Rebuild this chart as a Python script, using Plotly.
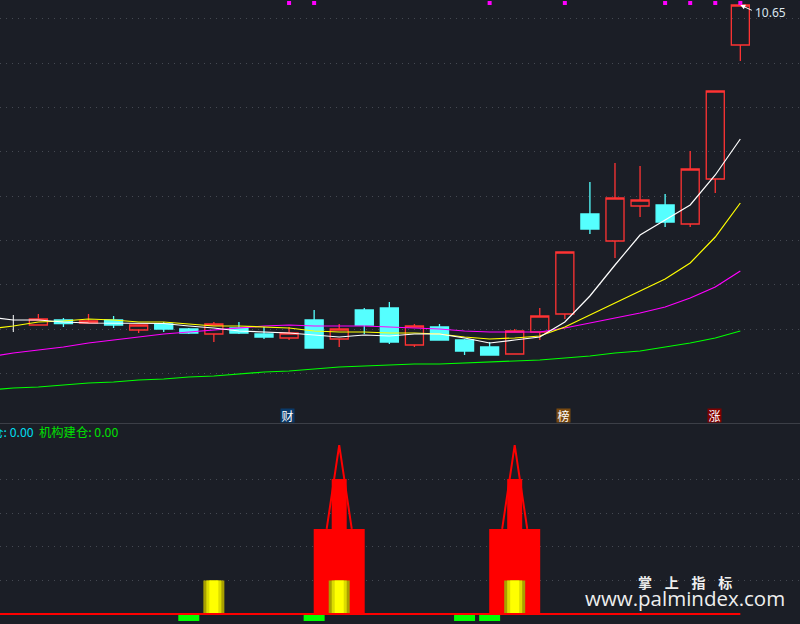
import plotly.graph_objects as go

# Candles (index 1..29); the first session (index 0) is a white doji
candle_idx = list(range(1, 30))
opens = [4.25,4.35,4.29,4.35,4.15,4.27,4.17,4.07,4.19,4.07,3.99,4.35,3.97,4.55,4.59,3.85,4.21,3.95,3.81,3.67,4.11,4.47,6.47,5.93,6.63,6.65,6.27,7.17,9.85]
highs = [4.47,4.39,4.47,4.43,4.25,4.31,4.19,4.31,4.31,4.21,4.21,4.55,4.27,4.59,4.71,4.27,4.27,3.97,3.91,4.17,4.59,5.71,7.11,7.49,7.43,6.87,7.73,8.93,10.65]
lows = [4.25,4.21,4.29,4.19,4.09,4.11,4.07,3.91,4.07,3.97,3.95,3.79,3.81,4.07,3.87,3.81,3.95,3.65,3.65,3.67,3.95,4.37,6.07,5.59,6.41,6.21,6.21,6.89,9.53]
closes = [4.37,4.28,4.33,4.25,4.25,4.17,4.09,4.27,4.09,4.01,4.09,3.79,4.17,4.25,3.91,4.23,3.95,3.73,3.65,4.13,4.43,5.71,6.17,6.79,6.75,6.31,7.37,8.93,10.65]
doji_idx = [0, 0]
doji_range = [4.45, 4.11]

# Moving averages (index -1..29; the first point runs off the left edge)
ma_idx = list(range(-1, 30))
ma_white = [4.41,4.35,4.35,4.31,4.29,4.29,4.29,4.28,4.23,4.19,4.13,4.11,4.09,4.05,4.01,4.05,4.03,4.07,4.07,3.99,3.89,3.95,4.01,4.31,4.83,5.45,6.05,6.35,6.65,7.25,7.97]
ma_yellow = [4.17,4.23,4.31,4.33,4.37,4.35,4.31,4.31,4.27,4.23,4.23,4.21,4.19,4.13,4.11,4.11,4.09,4.09,4.07,4.01,3.97,3.99,4.03,4.21,4.45,4.69,4.93,5.17,5.49,6.01,6.69]
ma_magenta = [3.61,3.69,3.75,3.81,3.89,3.95,4.01,4.07,4.11,4.15,4.19,4.23,4.25,4.23,4.23,4.23,4.21,4.19,4.17,4.13,4.11,4.11,4.11,4.19,4.29,4.39,4.49,4.61,4.79,5.01,5.33]
ma_green = [2.95,2.99,3.01,3.05,3.09,3.11,3.15,3.17,3.21,3.23,3.27,3.31,3.33,3.37,3.41,3.43,3.45,3.47,3.47,3.49,3.51,3.53,3.55,3.59,3.63,3.69,3.73,3.81,3.89,3.99,4.13]

signal_idx = [11, 12, 19, 22, 26, 27, 28, 29]
signal_price = [10.69] * 8
price_grid = [10.38, 9.49, 8.61, 7.73, 6.82, 5.95, 5.06, 4.17, 3.29]

# Lower indicator pane
base_idx = list(range(-1, 30))
base_vals = [0] * 31
wide_idx = [13, 20]
wide_vals = [2.54, 2.54]
narrow_idx = [13, 20]
narrow_vals = [4.03, 4.03]
spire_idx = [12.5, 13, 13.5, None, 19.5, 20, 20.5]
spire_vals = [2.54, 5.04, 2.54, None, 2.54, 5.04, 2.54]
yellow_idx = [8, 13, 20]
yellow_vals = [1.0, 1.0, 1.0]
green_idx = [7, 12, 18, 19]
green_vals = [-0.21, -0.21, -0.21, -0.21]
ind_grid = [1, 2, 3, 4]

BG = "#1b1e26"
GRID = "#454952"
UNIT = 25.07  # pixels per session

fig = go.Figure()
fig.add_trace(go.Candlestick(
    x=candle_idx, open=opens, high=highs, low=lows, close=closes,
    whiskerwidth=0, xaxis="x", yaxis="y",
    increasing=dict(line=dict(color="#ff3333", width=1.3), fillcolor="rgba(0,0,0,0)"),
    decreasing=dict(line=dict(color="#55ffff", width=1.3), fillcolor="#55ffff"),
))
fig.add_trace(go.Scatter(x=doji_idx, y=doji_range, mode="lines", line=dict(color="#ffffff", width=1), xaxis="x", yaxis="y"))
for vals, col in [(ma_green, "#00ff00"), (ma_magenta, "#ff00ff"), (ma_yellow, "#ffff00"), (ma_white, "#ffffff")]:
    fig.add_trace(go.Scatter(x=ma_idx, y=vals, mode="lines", line=dict(color=col, width=1.2), xaxis="x", yaxis="y"))
fig.add_trace(go.Scatter(x=signal_idx, y=signal_price, mode="markers",
                         marker=dict(symbol="square", size=4, color="#ff00ff"), xaxis="x", yaxis="y"))

def bars(idx, vals, width_px, color):
    fig.add_trace(go.Bar(x=idx, y=vals, width=width_px / UNIT, marker=dict(color=color, line=dict(width=0)),
                         xaxis="x2", yaxis="y2"))

bars(wide_idx, wide_vals, 51, "#ff0000")
bars(narrow_idx, narrow_vals, 15, "#ff0000")
bars(yellow_idx, yellow_vals, 21, "#a8a000")
bars(yellow_idx, yellow_vals, 15, "#dcdc00")
bars(yellow_idx, yellow_vals, 9, "#ffff00")
bars(green_idx, green_vals, 21, "#00ff00")
fig.add_trace(go.Scatter(x=spire_idx, y=spire_vals, mode="lines", line=dict(color="#ff0000", width=2), xaxis="x2", yaxis="y2"))
fig.add_trace(go.Scatter(x=base_idx, y=base_vals, mode="lines", line=dict(color="#ff0000", width=2), xaxis="x2", yaxis="y2"))

x_range = [-0.5305, 31.38]
axis_common = dict(showticklabels=False, ticks="", zeroline=False, showline=False)
CJK = "Noto Sans CJK SC"

def tag(idx, text, color):
    return dict(x=idx, y=2.44, xref="x", yref="y", text=text, showarrow=False, width=13, height=13,
                font=dict(family=CJK, size=12, color="#ffffff"), bgcolor=color, borderpad=0)

def label(px, py, text, color, size, family, anchor="left"):
    return dict(x=px / 800, y=1 - py / 624, xref="paper", yref="paper", xanchor=anchor, yanchor="middle",
                text=text, showarrow=False, font=dict(family=family, size=size, color=color))

fig.update_layout(
    width=800, height=624, margin=dict(l=0, r=0, t=0, b=0), autosize=False,
    paper_bgcolor=BG, plot_bgcolor=BG, showlegend=False, barmode="overlay", hovermode=False,
    boxgap=0.1, boxgroupgap=0.2,
    xaxis=dict(domain=[0, 1], range=x_range, showgrid=False, rangeslider=dict(visible=False), anchor="y", **axis_common),
    xaxis2=dict(domain=[0, 1], range=x_range, showgrid=False, anchor="y2", **axis_common),
    yaxis=dict(domain=[1 - 423 / 624, 1], range=[2.29, 10.75], tickvals=price_grid, showgrid=True,
               gridcolor=GRID, griddash="1px,5px", gridwidth=1, anchor="x", **axis_common),
    yaxis2=dict(domain=[0, 1 - 424 / 624], range=[-0.2985, 5.67], tickvals=ind_grid, showgrid=True,
                gridcolor=GRID, griddash="1px,5px", gridwidth=1, anchor="x2", **axis_common),
    shapes=[dict(type="line", xref="paper", yref="paper", x0=0, x1=1, y0=1 - 423.5 / 624, y1=1 - 423.5 / 624,
                 line=dict(color="#3c3f47", width=1))],
    annotations=[
        tag(10.94, "财", "#0a3a6a"),
        tag(21.95, "榜", "#7a4a10"),
        tag(27.97, "涨", "#800000"),
        dict(x=29, y=10.65, xref="x", yref="y", ax=13, ay=6, axref="pixel", ayref="pixel", text="", showarrow=True,
             arrowcolor="#ffffff", arrowwidth=1, arrowhead=2, arrowsize=1),
        label(752.5, 12, "10.65", "#dce6ee", 12, "Noto Sans"),
        label(36, 432, "建仓: 0.00", "#00dcee", 12.3, CJK, "right"),
        label(37, 432, "机构建仓: 0.00", "#00e000", 12.3, CJK),
        label(685, 582, "<b>掌\u00a0\u00a0\u00a0\u00a0上\u00a0\u00a0\u00a0\u00a0指\u00a0\u00a0\u00a0\u00a0标</b>", "#eeeeee", 14, CJK, "center"),
        label(685, 598, "www.palmindex.com", "#eeeeee", 20.5, "Open Sans", "center"),
    ],
)

fig.write_html("out.html", config=dict(displayModeBar=False),
               post_script="document.body.style.margin='0';document.body.style.background='#1b1e26';")
